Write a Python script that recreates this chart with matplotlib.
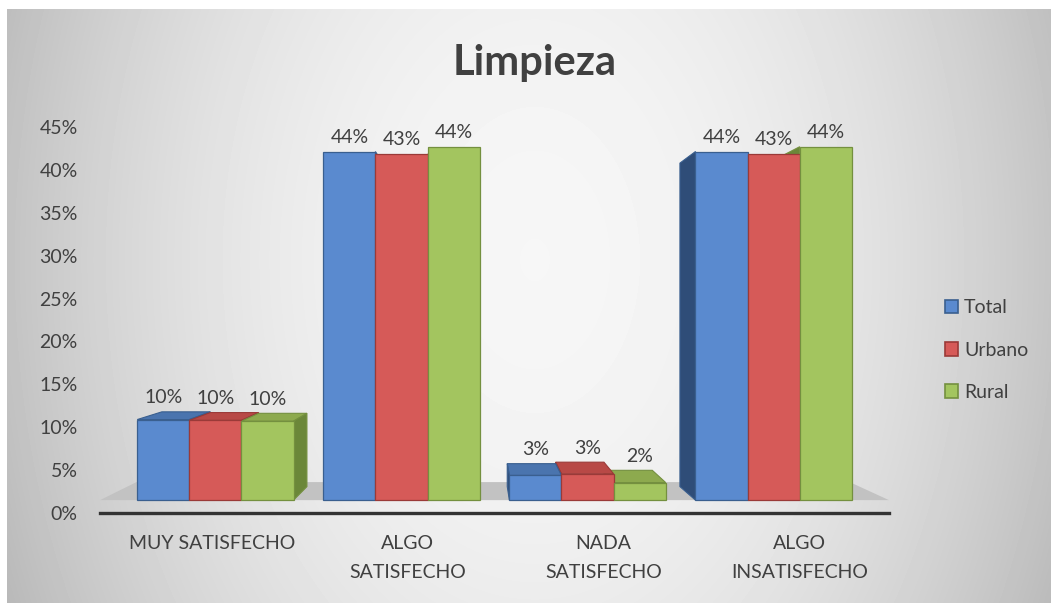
import numpy as np
import matplotlib
matplotlib.use('Agg')
import matplotlib.pyplot as plt
from matplotlib.patches import Polygon, Patch, Rectangle

plt.rcParams['font.family'] = ['Lato', 'DejaVu Sans']

# data
categories = ['MUY SATISFECHO', 'ALGO\nSATISFECHO', 'NADA\nSATISFECHO', 'ALGO\nINSATISFECHO']
series_names = ['Total', 'Urbano', 'Rural']
total = [0.101, 0.437, 0.031, 0.437]
urbano = [0.100, 0.434, 0.033, 0.434]
rural = [0.099, 0.443, 0.022, 0.443]
yticks = [0, 0.05, 0.10, 0.15, 0.20, 0.25, 0.30, 0.35, 0.40, 0.45]

series = [total, urbano, rural]
front_cols = ['#5A8ACF', '#D65A58', '#A3C55F']
edge_cols = ['#3A5F8F', '#9A3A38', '#74903F']
side_cols = ['#2F4D78', '#8E3533', '#6B8739']
top_cols = ['#4A74AE', '#B84946', '#8DAA4E']
text_col = '#404040'

W, H = 1051, 603
fig = plt.figure(figsize=(W / 100, H / 100), dpi=100)
fig.patch.set_facecolor('#C6C6C6')

# background gradient of the chart area
bg = fig.add_axes([0, 0, 1, 1], zorder=-10)
gx, gy = np.meshgrid(np.arange(W + 4) + 0.5, np.arange(H + 4) + 0.5)
u = (gx - 535) / 600
v = (gy - 260) / 420
val = np.clip(0.965 - 0.26 * u ** 2 - 0.06 * v ** 2, 0, 1)
bg.imshow(val, cmap='gray', vmin=0, vmax=1, aspect='auto',
          interpolation='nearest', extent=(0, W + 4, H + 4, 0))
bg.set_xlim(0, W)
bg.set_ylim(H, 0)
bg.axis('off')
# white margin at top and left
fig.patches.append(Rectangle((0, 0), 7 / W, 1, transform=fig.transFigure,
                             facecolor='white', edgecolor='none', zorder=-5))
fig.patches.append(Rectangle((0, 1 - 9 / H), 1, 9 / H, transform=fig.transFigure,
                             facecolor='white', edgecolor='none', zorder=-5))

ax = fig.add_axes([100 / W, 90 / H, 789 / W, 386 / H])
ax.patch.set_alpha(0)
ax.set_xlim(-0.62, 3.62)
ax.set_ylim(0, 0.45)

FLOOR = 0.015     # bars stand on the floor, slightly above 0
SCALE = 0.93      # perspective shrink of the front faces
VP = (1.42, 0.234)
K = 0.072
KF = 0.096


def back(p, k=K):
    return (p[0] + k * (VP[0] - p[0]), p[1] + k * (VP[1] - p[1]))


# floor
f0, f1 = (-0.62, FLOOR), (3.62, FLOOR)
ax.add_patch(Polygon([f0, f1, back(f1, KF), back(f0, KF)], closed=True,
                     facecolor='#C2C2C2', edgecolor='none', zorder=1))

width = 0.28
xc = np.arange(len(categories))
offsets = [-width, 0, width]

faces = []
for s, vals in enumerate(series):
    for i, val_ in enumerate(vals):
        x0 = xc[i] + offsets[s] - width / 2
        x1 = x0 + width
        y0 = FLOOR
        y1 = FLOOR + val_ * SCALE
        dist = abs((x0 + x1) / 2 - VP[0])
        if y1 < VP[1]:
            faces.append((dist, [(x0, y1), (x1, y1), back((x1, y1)), back((x0, y1))], top_cols[s], edge_cols[s]))
        if x1 < VP[0]:
            faces.append((dist, [(x1, y0), (x1, y1), back((x1, y1)), back((x1, y0))], side_cols[s], edge_cols[s]))
        if x0 > VP[0]:
            faces.append((dist, [(x0, y0), (x0, y1), back((x0, y1)), back((x0, y0))], side_cols[s], edge_cols[s]))

faces.sort(key=lambda f: -f[0])
for _, pts, fc, ec in faces:
    ax.add_patch(Polygon(pts, closed=True, facecolor=fc, edgecolor=ec, linewidth=0.8, zorder=2))

for s, vals in enumerate(series):
    h = np.array(vals) * SCALE
    ax.bar(xc + offsets[s], h, width, bottom=FLOOR, color=front_cols[s],
           edgecolor=edge_cols[s], linewidth=0.9, zorder=3)
    for i, val_ in enumerate(vals):
        x = xc[i] + offsets[s]
        y1 = FLOOR + val_ * SCALE
        ytop = max(y1, back((x, y1))[1])
        ax.annotate(f'{round(val_ * 100):.0f}%', (x, ytop), xytext=(0, 4),
                    textcoords='offset points', ha='center', va='bottom',
                    fontsize=14, color=text_col, zorder=5)

# axes styling
for sp in ['left', 'top', 'right']:
    ax.spines[sp].set_visible(False)
ax.spines['bottom'].set_color('#333333')
ax.spines['bottom'].set_linewidth(2.4)
ax.spines['bottom'].set_zorder(4)

ax.set_yticks(yticks)
ax.set_yticklabels([f'{round(t * 100)}%' for t in yticks])
ax.tick_params(axis='y', length=0, pad=16, labelsize=14, labelcolor=text_col)

label_pos = np.arange(len(categories)) * 1.053 - 0.02
ax.set_xticks(label_pos)
ax.set_xticklabels(categories, linespacing=1.85)
ax.tick_params(axis='x', length=0, pad=16, labelsize=14, labelcolor=text_col)

fig.text(535 / W, 1 - 63 / H, 'Limpieza', ha='center', va='center',
         fontsize=30, fontweight='bold', color=text_col)

handles = [Patch(facecolor=front_cols[s], edgecolor=edge_cols[s], linewidth=1.2)
           for s in range(3)]
fig.legend(handles, series_names, loc='center left',
           bbox_to_anchor=(927 / W, 1 - 350 / H), frameon=False,
           fontsize=14, labelcolor=text_col, handlelength=0.7,
           handleheight=0.7, handletextpad=0.3, labelspacing=1.3)

fig.savefig('out.png', dpi=100)
